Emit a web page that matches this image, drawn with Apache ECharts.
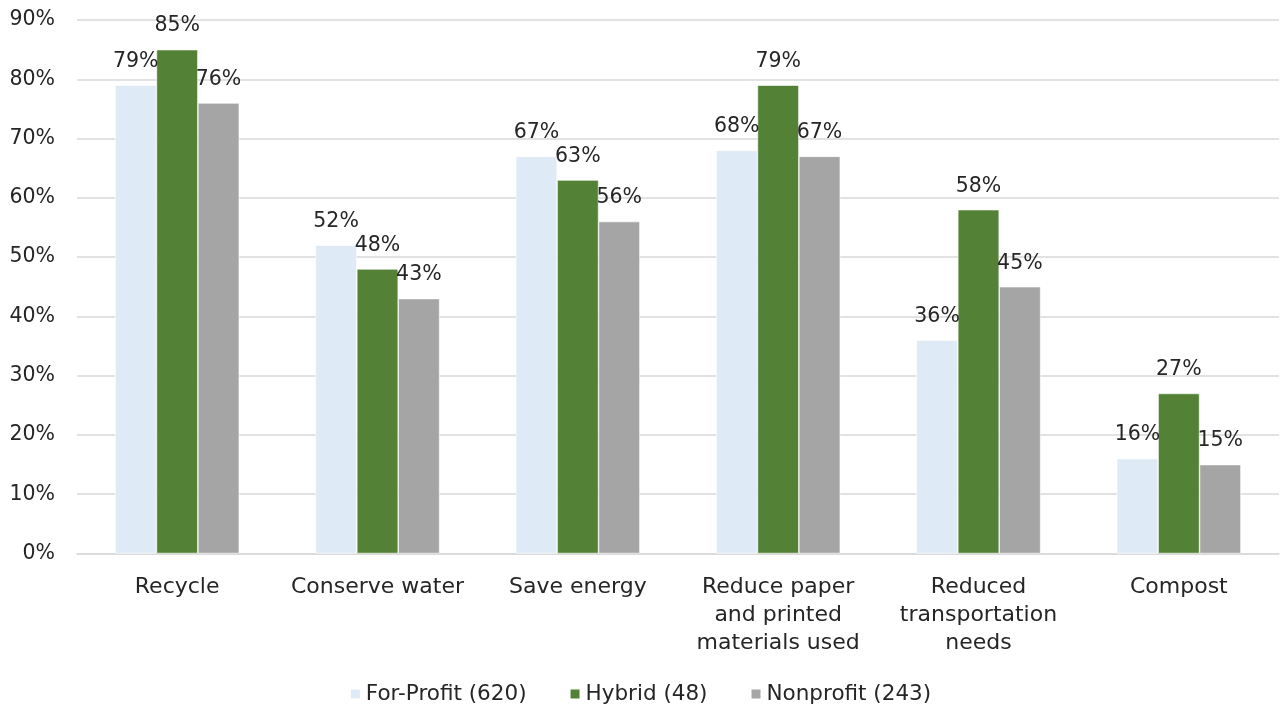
<!DOCTYPE html>
<html>
<head>
<meta charset="utf-8">
<script src="https://cdn.jsdelivr.net/npm/echarts@6/dist/echarts.min.js"></script>
<style>
  html, body { margin: 0; padding: 0; background: #ffffff; }
  #chart { width: 1280px; height: 710px; }
</style>
</head>
<body>
<div id="chart"></div>
<script>
// Sustainability practices by organisation type (share of respondents, %)
const categories = [
  'Recycle',
  'Conserve water',
  'Save energy',
  'Reduce paper\nand printed\nmaterials used',
  'Reduced\ntransportation\nneeds',
  'Compost'
];
const seriesNames = ['For-Profit (620)', 'Hybrid (48)', 'Nonprofit (243)'];
const forProfit = [79, 52, 67, 68, 36, 16];
const hybrid = [85, 48, 63, 79, 58, 27];
const nonprofit = [76, 43, 56, 67, 45, 15];
const yTicks = { min: 0, max: 90, interval: 10 };

const colors = ['#DEEAF6', '#538135', '#A5A5A5'];
const fontFamily = '"DejaVu Sans", sans-serif';
const textColor = '#262626';

const chart = echarts.init(document.getElementById('chart'));

function makeSeries(name, data, color) {
  return {
    name: name,
    type: 'bar',
    data: data,
    barGap: '0%',
    barCategoryGap: '38%',
    itemStyle: { color: color, borderColor: '#ffffff', borderWidth: 0.6 },
    label: {
      show: true,
      position: 'top',
      distance: 13,
      formatter: '{c}%',
      fontFamily: fontFamily,
      fontSize: 20.5,
      color: textColor
    }
  };
}

chart.setOption({
  animation: false,
  backgroundColor: '#ffffff',
  color: colors,
  grid: { left: 77, right: 1, top: 20, bottom: 156.5, containLabel: false },
  legend: {
    data: seriesNames,
    bottom: 0,
    left: 'center',
    itemWidth: 11,
    itemHeight: 11,
    itemGap: 42,
    icon: 'rect',
    textStyle: { fontFamily: fontFamily, fontSize: 21.5, color: textColor }
  },
  xAxis: {
    type: 'category',
    data: categories,
    axisLine: { show: true, lineStyle: { color: '#d9d9d9', width: 1.5 } },
    axisTick: { show: false },
    axisLabel: {
      interval: 0,
      margin: 20,
      fontFamily: fontFamily,
      fontSize: 22,
      lineHeight: 28,
      color: textColor
    }
  },
  yAxis: {
    type: 'value',
    min: yTicks.min,
    max: yTicks.max,
    interval: yTicks.interval,
    axisLine: { show: false },
    axisTick: { show: false },
    splitLine: { lineStyle: { color: '#d9d9d9', width: 1.5 } },
    axisLabel: {
      margin: 22,
      formatter: '{value}%',
      fontFamily: fontFamily,
      fontSize: 20.5,
      color: textColor
    }
  },
  series: [
    makeSeries(seriesNames[0], forProfit, colors[0]),
    makeSeries(seriesNames[1], hybrid, colors[1]),
    makeSeries(seriesNames[2], nonprofit, colors[2])
  ]
});
</script>
</body>
</html>
